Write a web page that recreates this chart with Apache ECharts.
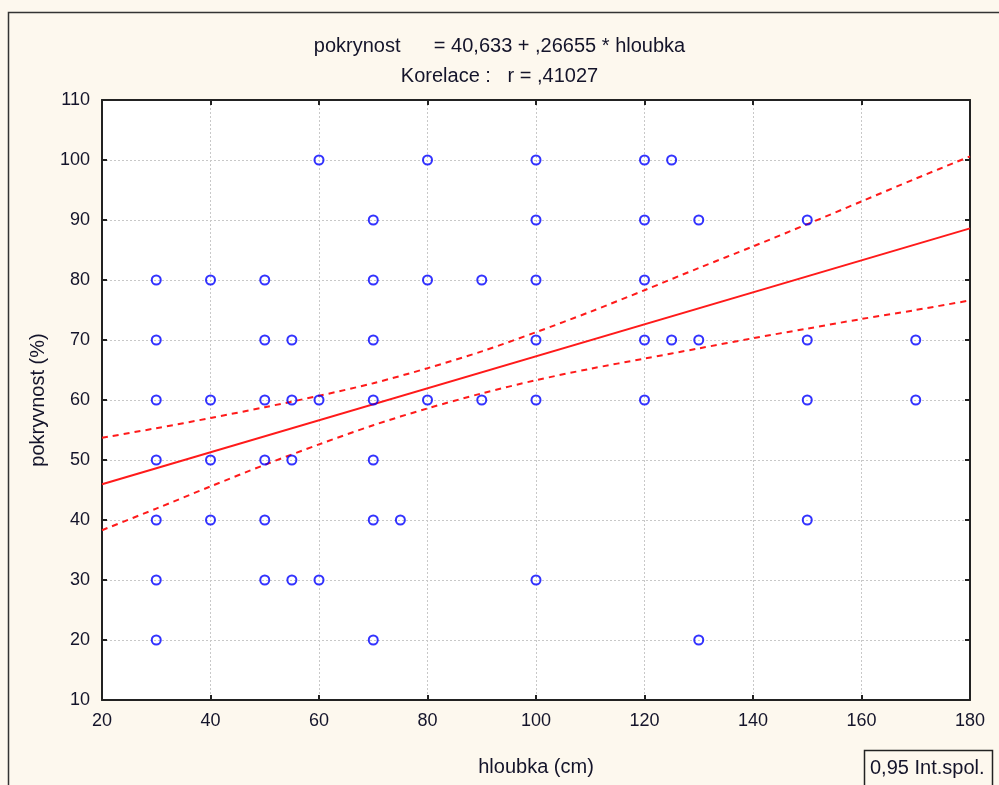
<!DOCTYPE html>
<html><head><meta charset="utf-8">
<script src="https://cdn.jsdelivr.net/npm/echarts@6/dist/echarts.min.js"></script>
<style>html,body{margin:0;padding:0;background:#fdf8ee;}#c{width:999px;height:785px;}</style>
</head><body><div id="c"></div>
<script>
// Scatter points: hloubka (cm) vs pokryvnost (%)
const pointsX = [30,30,30,30,30,30,30, 40,40,40,40, 50,50,50,50,50,50, 55,55,55,55, 60,60,60, 70,70,70,70,70,70,70, 75, 80,80,80, 90,90, 100,100,100,100,100,100, 120,120,120,120,120, 125,125, 130,130,130, 150,150,150,150, 170,170];
const pointsY = [80,70,60,50,40,30,20, 80,60,50,40, 80,70,60,50,40,30, 70,60,50,30, 100,60,30, 90,80,70,60,50,40,20, 40, 100,80,60, 80,60, 100,90,80,70,60,30, 100,90,80,70,60, 100,70, 90,70,20, 90,70,60,40, 70,60];
// Regression line endpoints (pokrynost = 40,633 + ,26655 * hloubka)
const fitX = [20, 180];
const fitY = [45.96, 88.61];
// 0,95 confidence band
const bandX = [20,30,40,50,60,70,80,90,100,110,120,130,140,150,160,170,180];
const bandUpper = [53.7,55.3,57.0,58.8,60.7,62.8,65.3,68.1,71.3,74.7,78.3,82.0,85.6,89.3,93.1,96.9,100.6];
const bandLower = [38.3,41.9,45.6,49.2,52.6,55.8,58.6,61.1,63.3,65.2,66.9,68.6,70.3,71.9,73.5,75.0,76.6];
const xTicks = [20,40,60,80,100,120,140,160,180];
const yTicks = [10,20,30,40,50,60,70,80,90,100,110];

const zip = (a,b) => a.map((v,i)=>[v,b[i]]);
const FONT = 'Arial, "Liberation Sans", sans-serif';
const TXT = '#14142a';

const chart = echarts.init(document.getElementById('c'), null, {renderer:'canvas'});
const axisCommon = {
  axisLine:{show:true, onZero:false, lineStyle:{color:'#222', width:2}},
  axisTick:{show:true, inside:true, length:5, lineStyle:{color:'#222', width:2}},
  splitLine:{show:false}
};
chart.setOption({
  backgroundColor:'#fdf8ee',
  animation:false,
  title:{
    text:'pokrynost      = 40,633 + ,26655 * hloubka\nKorelace :   r = ,41027',
    left:'center', top:26,
    textStyle:{fontFamily:FONT, fontSize:20, fontWeight:'normal', color:TXT, lineHeight:30}
  },
  grid:{left:102, right:29, top:100, bottom:85, show:true, backgroundColor:'#ffffff', borderWidth:0},
  xAxis:[
    Object.assign({}, axisCommon, {
      type:'value', min:20, max:180, interval:20, position:'bottom',
      name:'hloubka (cm)', nameLocation:'middle', nameGap:57,
      nameTextStyle:{fontFamily:FONT, fontSize:20, color:TXT},
      axisLabel:{fontFamily:FONT, fontSize:18, color:TXT, margin:12},
      splitLine:{show:true, lineStyle:{color:'#c8c8c8', type:[2,2], width:1}}
    }),
    Object.assign({}, axisCommon, {
      type:'value', min:20, max:180, interval:20, position:'top',
      axisLabel:{show:false}
    })
  ],
  yAxis:[
    Object.assign({}, axisCommon, {
      type:'value', min:10, max:110, interval:10, position:'left',
      name:'pokryvnost (%)', nameLocation:'middle', nameGap:54,
      nameTextStyle:{fontFamily:FONT, fontSize:20, color:TXT},
      axisLabel:{fontFamily:FONT, fontSize:18, color:TXT, margin:12},
      splitLine:{show:true, lineStyle:{color:'#c8c8c8', type:[2,2], width:1}}
    }),
    Object.assign({}, axisCommon, {
      type:'value', min:10, max:110, interval:10, position:'right',
      axisLabel:{show:false}
    })
  ],
  series:[
    {type:'line', data:zip(bandX,bandUpper), smooth:0.3, symbol:'none',
     lineStyle:{color:'#ff1a1a', width:2, type:[6,5]}, z:3},
    {type:'line', data:zip(bandX,bandLower), smooth:0.3, symbol:'none',
     lineStyle:{color:'#ff1a1a', width:2, type:[6,5]}, z:3},
    {type:'line', data:zip(fitX,fitY), symbol:'none',
     lineStyle:{color:'#ff1a1a', width:2}, z:3},
    {type:'scatter', data:zip(pointsX,pointsY), symbol:'circle', symbolSize:9,
     itemStyle:{color:'rgba(255,255,255,0)', borderColor:'#0000ff', borderWidth:2}, z:4}
  ],
  graphic:[
    {type:'rect', shape:{x:8.5, y:12.5, width:1030, height:820},
     style:{fill:null, stroke:'#333', lineWidth:1.5}, silent:true, z:-1},
    {type:'rect', shape:{x:864.5, y:750.5, width:128, height:40},
     style:{fill:'#fdf8ee', stroke:'#222', lineWidth:1.5}},
    {type:'text', x:870, y:758, style:{text:'0,95 Int.spol.', fontFamily:FONT, fontSize:20, fill:TXT}}
  ]
});
</script></body></html>
